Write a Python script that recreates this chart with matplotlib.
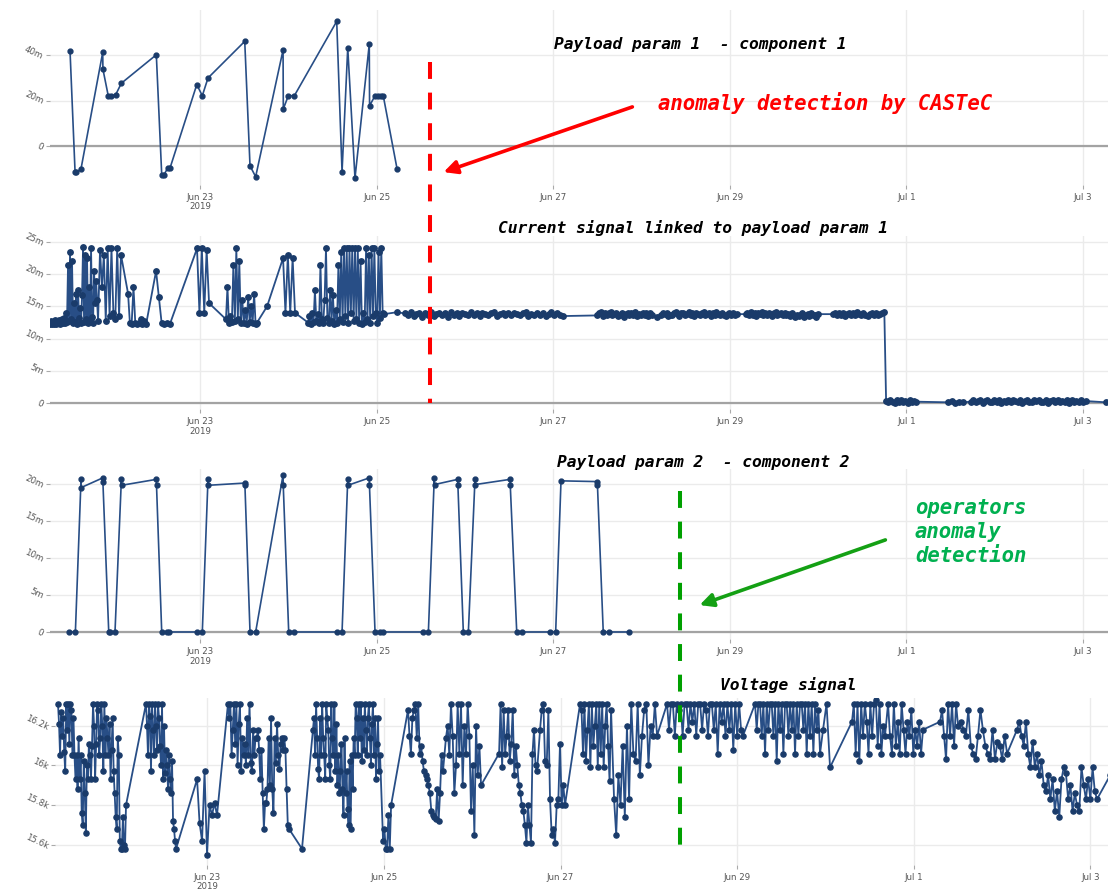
import matplotlib
matplotlib.use("Agg")
import matplotlib.pyplot as plt
import matplotlib.dates as mdates
from matplotlib.lines import Line2D
from matplotlib.patches import FancyArrowPatch
from matplotlib.transforms import blended_transform_factory
import numpy as np
import pandas as pd

# ---------------- DATA ----------------
# Payload param 1 - component 1 (m units)
p1_times = ["2019-06-21 12:40", "2019-06-21 14:02", "2019-06-21 14:24", "2019-06-21 15:39",
            "2019-06-21 21:33", "2019-06-21 21:36", "2019-06-21 23:05", "2019-06-21 23:46",
            "2019-06-22 01:05", "2019-06-22 02:37", "2019-06-22 12:07", "2019-06-22 13:35",
            "2019-06-22 14:12", "2019-06-22 15:13", "2019-06-22 15:50", "2019-06-22 23:07",
            "2019-06-23 00:37", "2019-06-23 02:10", "2019-06-23 12:09", "2019-06-23 13:35",
            "2019-06-23 15:07", "2019-06-23 22:34", "2019-06-23 22:38", "2019-06-24 00:00",
            "2019-06-24 01:38", "2019-06-24 13:09", "2019-06-24 14:36", "2019-06-24 16:09",
            "2019-06-24 18:07", "2019-06-24 22:00", "2019-06-24 22:05", "2019-06-24 23:34",
            "2019-06-25 00:29", "2019-06-25 01:05", "2019-06-25 01:48", "2019-06-25 05:33"]
p1_values = [41.6, -11.6, -11.6, -10.0, 41.2, 33.8, 21.8, 21.8, 22.6, 27.6, 40.1, -12.6,
             -12.6, -9.7, -9.7, 27.0, 22.1, 29.9, 46.0, -8.7, -13.5, 42.2, 16.3, 22.1,
             22.1, 54.8, -11.3, 43.1, -14.1, 44.7, 17.7, 22.1, 22.1, 22.1, 22.1, -10.0]

# Current signal linked to payload param 1 (m units): bursts of (start, end, values)
cur_bursts = [
    ("2019-06-21 07:13", "2019-06-21 20:17",
     [12.3, 12.8, 12.2, 12.6, 12.3, 12.9, 12.2, 12.7, 12.4, 12.9, 12.3, 12.6, 13.0, 12.4, 13.2, 12.5,
      14.0, 12.6, 21.5, 12.8, 23.4, 13.0, 22.0, 12.4, 15.5, 12.6, 17.0, 12.3, 17.5, 13.2, 14.8, 12.5,
      16.7, 24.2, 12.6, 23.0, 13.0, 22.5, 12.4, 18.0, 12.7, 24.0, 13.4, 12.5, 20.5, 15.5, 19.0, 16.0, 12.8]),
    ("2019-06-21 20:49", "2019-06-22 02:31",
     [23.8, 18.0, 23.0, 12.8, 24.0, 13.5, 24.0, 14.0, 13.0, 24.0, 13.5, 23.0]),
    ("2019-06-22 04:26", "2019-06-22 09:20",
     [17.0, 12.5, 12.3, 18.0, 12.5, 12.2, 12.4, 13.0, 12.3, 12.8, 12.2]),
    ("2019-06-22 12:03", "2019-06-22 15:50", [20.5, 16.5, 12.4, 12.2, 12.5, 12.3]),
    ("2019-06-22 23:11", "2019-06-23 02:27", [24.0, 14.0, 24.0, 14.0, 23.8, 15.5]),
    ("2019-06-23 07:03", "2019-06-23 15:30",
     [13.0, 18.0, 12.5, 13.5, 12.6, 21.5, 12.8, 24.0, 13.0, 22.0, 12.4, 16.0, 12.5, 14.5, 12.3,
      16.5, 12.6, 15.0, 12.4, 17.0, 12.3, 12.5]),
    ("2019-06-23 18:13", "2019-06-23 18:13", [15.0]),
    ("2019-06-23 22:34", "2019-06-24 01:49", [22.5, 14.0, 23.0, 14.0, 22.5, 14.0]),
    ("2019-06-24 05:21", "2019-06-25 02:01",
     [12.5, 13.5, 12.3, 14.0, 12.6, 17.5, 12.8, 13.8, 12.4, 21.5, 13.0, 12.5, 16.0, 24.0, 13.2, 12.4,
      17.5, 12.8, 16.8, 12.3, 14.5, 12.5, 21.5, 13.0, 23.4, 12.6, 24.0, 13.5, 24.0, 12.4, 24.0, 14.0,
      24.0, 12.8, 24.0, 13.0, 24.0, 12.5, 22.0, 12.2, 14.0, 12.6, 24.0, 13.0, 23.0, 12.4, 24.0, 13.5,
      24.0, 14.0, 12.5, 23.5, 13.2, 24.0, 14.0, 13.8]),
    ("2019-06-25 05:33", "2019-06-25 05:33", [14.1]),
    ("2019-06-25 07:41", "2019-06-27 02:38",
     [13.9, 13.6, 14.1, 13.5, 13.8, 14.0, 13.4, 13.9, 13.7, 14.1, 13.5, 13.8, 14.0, 13.6, 13.9, 13.4,
      14.1, 13.7, 13.9, 13.5, 14.0, 13.8, 13.6, 14.1, 13.7, 13.9, 13.5, 14.0, 13.8, 13.6, 13.9, 14.1,
      13.5, 13.8, 14.0, 13.7, 13.9, 13.6, 14.0, 13.8, 13.6, 13.9, 14.1, 13.5, 13.8, 13.7, 14.0, 13.6,
      13.9, 13.5, 13.8, 14.1, 13.6, 13.9, 13.7, 13.5]),
    ("2019-06-27 12:00", "2019-06-28 02:53",
     [13.6, 13.9, 14.1, 13.5, 14.0, 13.7, 13.9, 14.1, 13.6, 13.8, 14.0, 13.5, 13.7, 13.9, 13.4, 13.8,
      14.0, 13.6, 13.9, 13.7, 14.1, 13.5, 13.8, 13.6, 13.9, 13.7, 14.0, 13.5, 13.9, 13.6]),
    ("2019-06-28 04:05", "2019-06-28 04:05", [13.4]),
    ("2019-06-28 05:17", "2019-06-29 01:55",
     [13.7, 14.0, 13.8, 13.9, 13.5, 13.7, 13.6, 13.9, 14.1, 13.8, 13.5, 13.9, 14.0, 13.6, 13.8, 14.1,
      13.7, 13.9, 13.5, 14.0, 13.8, 13.6, 13.9, 14.1, 13.7, 13.8, 14.0, 13.5, 13.9, 13.7, 14.1, 13.8,
      13.6, 13.9, 13.7, 13.5, 13.8, 14.0, 13.6, 13.9, 13.7, 13.8]),
    ("2019-06-29 04:19", "2019-06-30 00:00",
     [13.8, 14.0, 13.6, 14.1, 13.7, 13.9, 13.5, 14.0, 13.8, 14.1, 13.6, 13.9, 13.7, 14.0, 13.8, 13.5,
      13.9, 14.1, 13.7, 13.8, 14.0, 13.6, 13.9, 13.7, 13.8, 13.5, 13.9, 13.6, 13.4, 13.7, 13.5, 13.6,
      13.9, 13.4, 13.7, 13.8, 13.5, 13.9, 13.6, 13.7, 13.4, 13.8]),
    ("2019-06-30 04:05", "2019-06-30 17:17",
     [13.8, 13.9, 13.6, 14.0, 13.7, 13.9, 13.5, 13.8, 14.0, 13.6, 13.9, 13.7, 14.1, 13.8, 13.6, 13.9,
      13.7, 13.5, 13.8, 14.0, 13.7, 13.9, 13.6, 13.8, 14.0]),
    ("2019-06-30 18:00", "2019-06-30 18:00", [14.2]),
    ("2019-06-30 18:29", "2019-07-01 02:38",
     [0.3, 0.1, 0.5, 0.2, 0.0, 0.4, 0.2, 0.5, 0.1, 0.3, 0.0, 0.4, 0.2, 0.3, 0.2]),
    ("2019-07-01 11:17", "2019-07-01 15:22", [0.1, 0.3, 0.0, 0.2, 0.1]),
    ("2019-07-01 17:31", "2019-07-03 00:43",
     [0.2, 0.5, 0.1, 0.3, 0.4, 0.0, 0.3, 0.5, 0.2, 0.1, 0.4, 0.2, 0.5, 0.0, 0.3, 0.2, 0.4, 0.1, 0.5,
      0.3, 0.2, 0.4, 0.0, 0.3, 0.5, 0.1, 0.2, 0.4, 0.3, 0.5, 0.1, 0.2, 0.4, 0.0, 0.3, 0.5, 0.2, 0.4,
      0.1, 0.3, 0.2, 0.5, 0.0, 0.4, 0.2, 0.3, 0.1, 0.4, 0.2, 0.3]),
    ("2019-07-03 06:14", "2019-07-03 06:14", [0.1]),
]

# Payload param 2 - component 2 (m units)
p2_times = ["2019-06-21 12:29", "2019-06-21 14:07", "2019-06-21 15:39", "2019-06-21 15:43",
            "2019-06-21 21:33", "2019-06-21 21:36", "2019-06-21 23:11", "2019-06-21 23:33",
            "2019-06-22 00:53", "2019-06-22 02:37", "2019-06-22 02:40", "2019-06-22 12:07",
            "2019-06-22 12:10", "2019-06-22 13:35", "2019-06-22 14:57", "2019-06-22 15:39",
            "2019-06-22 23:07", "2019-06-23 00:37", "2019-06-23 02:10", "2019-06-23 02:12",
            "2019-06-23 12:09", "2019-06-23 12:12", "2019-06-23 13:35", "2019-06-23 15:07",
            "2019-06-23 22:34", "2019-06-23 22:37", "2019-06-24 00:06", "2019-06-24 01:38",
            "2019-06-24 13:09", "2019-06-24 14:36", "2019-06-24 16:09", "2019-06-24 16:12",
            "2019-06-24 22:00", "2019-06-24 22:03", "2019-06-24 23:34", "2019-06-25 00:55",
            "2019-06-25 01:39", "2019-06-25 12:32", "2019-06-25 14:04", "2019-06-25 15:40",
            "2019-06-25 15:44", "2019-06-25 22:02", "2019-06-25 22:05", "2019-06-25 23:34",
            "2019-06-26 00:56", "2019-06-26 02:44", "2019-06-26 02:48", "2019-06-26 12:16",
            "2019-06-26 12:19", "2019-06-26 14:05", "2019-06-26 15:36", "2019-06-26 23:08",
            "2019-06-27 00:40", "2019-06-27 02:07", "2019-06-27 11:59", "2019-06-27 12:01",
            "2019-06-27 13:36", "2019-06-27 15:10", "2019-06-27 20:36"]
p2_values = [0, 0, 20.6, 19.5, 20.8, 20.2, 0, 0, 0, 20.6, 19.8, 20.6, 19.8, 0, 0, 0, 0, 0,
             20.7, 19.8, 20.1, 19.8, 0, 0, 21.2, 19.8, 0, 0, 0, 0, 20.6, 19.8, 20.8, 19.8,
             0, 0, 0, 0, 0, 20.8, 19.9, 20.6, 19.9, 0, 0, 20.6, 19.9, 20.6, 19.9, 0, 0, 0, 0,
             20.4, 20.3, 19.9, 0, 0, 0]

# Voltage signal (k units): bursts of (start, end, values)
volt_bursts = [
    ("2019-06-21 07:25", "2019-06-22 01:54",
     [16.31, 16.21, 16.05, 16.27, 16.15, 16.24, 16.07, 15.97, 16.31, 16.18, 16.31, 16.11, 16.31, 16.28,
      16.05, 16.24, 16.05, 15.93, 16.05, 15.88, 16.14, 15.93, 16.05, 15.76, 15.70, 16.02, 15.86, 15.66,
      16.00, 15.93, 16.11, 16.05, 15.93, 16.10, 16.31, 16.20, 15.93, 16.11, 16.31, 16.28, 16.05, 16.14,
      16.31, 16.20, 15.97, 16.31, 16.05, 16.24, 16.14, 16.05, 16.21, 15.93, 16.08, 16.24, 15.97, 15.86,
      15.74, 15.68, 16.14, 16.05, 15.62, 15.58, 15.58, 15.74, 15.60, 15.58, 15.80]),
    ("2019-06-22 07:20", "2019-06-22 15:30",
     [16.31, 16.20, 16.05, 16.31, 16.25, 15.97, 16.31, 16.18, 16.05, 16.31, 16.20, 16.08, 16.31, 16.24,
      16.10, 16.00, 16.31, 15.93, 16.20, 15.96, 16.08, 16.00, 15.88, 16.05, 15.93, 15.86, 16.02, 15.72,
      15.68, 15.62, 15.58]),
    ("2019-06-22 21:13", "2019-06-23 02:38",
     [15.93, 15.71, 15.62, 15.97, 15.55, 15.80, 15.75, 15.81, 15.75]),
    ("2019-06-23 05:37", "2019-06-23 22:12",
     [16.31, 16.24, 16.31, 16.05, 16.18, 16.31, 16.11, 16.31, 16.00, 16.21, 16.31, 15.97, 16.14, 16.05,
      16.11, 16.00, 16.24, 16.05, 16.31, 16.01, 15.97, 16.18, 16.05, 16.14, 16.14, 16.18, 16.08, 15.93,
      16.08, 15.86, 15.68, 15.81, 15.81, 15.88, 16.14, 15.90, 16.24, 15.88, 15.76, 16.14, 16.01, 16.21,
      16.05, 15.98, 16.11, 16.14, 16.08, 16.14, 16.08, 15.88, 15.70, 15.68]),
    ("2019-06-24 01:44", "2019-06-24 01:44", [15.58]),
    ("2019-06-24 04:44", "2019-06-24 22:57",
     [16.18, 16.24, 16.05, 16.31, 16.14, 15.98, 15.93, 16.24, 16.05, 16.31, 16.14, 16.05, 15.93, 16.31,
      16.24, 16.18, 16.00, 15.93, 16.31, 16.14, 16.05, 16.31, 15.97, 16.21, 15.90, 16.05, 15.86, 15.97,
      16.11, 15.88, 15.75, 16.14, 15.86, 15.97, 15.78, 15.70, 16.02, 15.68, 16.05, 15.88, 16.14, 16.05,
      16.31, 16.24, 16.05, 16.31, 16.14, 16.31, 16.02, 16.24, 16.08, 16.31, 16.18, 16.05, 16.24, 16.31,
      16.14, 16.00, 16.21, 16.31, 16.05, 16.24, 15.93, 16.11, 16.24, 15.97, 16.05]),
    ("2019-06-24 23:46", "2019-06-25 01:57", [15.62, 15.68, 15.58, 15.58, 15.75, 15.58, 15.80]),
    ("2019-06-25 06:33", "2019-06-25 16:03",
     [16.28, 16.15, 16.06, 16.24, 16.28, 16.31, 16.14, 16.31, 16.06, 16.10, 16.02, 15.97, 15.95, 15.93,
      15.90, 15.86, 15.77, 15.75, 15.74, 15.73, 15.88, 15.72, 15.86, 16.05, 15.97]),
    ("2019-06-25 16:52", "2019-06-26 02:24",
     [16.14, 16.20, 16.05, 16.31, 16.15, 15.86, 16.00, 16.31, 16.06, 16.31, 15.90, 16.20, 16.06, 16.31,
      16.15, 15.77, 16.00, 15.65, 16.20, 15.95, 16.10, 15.90]),
    ("2019-06-26 07:18", "2019-06-26 17:37",
     [16.06, 16.31, 15.99, 16.28, 16.06, 16.15, 16.28, 16.02, 16.11, 16.28, 15.95, 16.10, 16.00, 15.90,
      15.86, 15.80, 15.77, 15.70, 15.61, 15.80, 15.70, 15.61, 16.06, 16.18, 16.00, 15.97]),
    ("2019-06-26 18:26", "2019-06-27 01:13",
     [16.18, 16.28, 16.31, 16.02, 16.00, 16.28, 15.83, 15.65, 15.68, 15.61, 15.80, 15.83, 16.11, 15.80,
      15.90, 15.80]),
    ("2019-06-27 05:18", "2019-06-27 13:44",
     [16.31, 16.28, 16.06, 16.31, 16.02, 16.18, 16.31, 15.99, 16.31, 16.10, 16.20, 16.31, 15.99, 16.31,
      16.06, 16.31, 15.99, 16.20, 16.31, 16.10, 15.92, 16.28]),
    ("2019-06-27 14:33", "2019-06-28 02:14",
     [15.83, 15.65, 15.95, 15.80, 16.10, 15.74, 16.20, 15.83, 16.31, 16.06, 16.02, 16.31, 15.95, 16.15,
      16.28, 16.31, 16.00, 16.20, 16.15, 16.31, 16.15]),
    ("2019-06-28 04:57", "2019-06-29 01:36",
     [16.31, 16.18, 16.31, 16.31, 16.15, 16.31, 16.28, 16.31, 16.15, 16.31, 16.31, 16.18, 16.31, 16.22,
      16.31, 16.15, 16.31, 16.31, 16.18, 16.31, 16.28, 16.15, 16.31, 16.31, 16.18, 16.31, 16.06, 16.31,
      16.22, 16.31, 16.15, 16.31, 16.18, 16.31, 16.08, 16.31, 16.15, 16.31, 16.18, 16.15]),
    ("2019-06-29 04:52", "2019-06-29 22:32",
     [16.31, 16.18, 16.31, 16.31, 16.15, 16.31, 16.06, 16.31, 16.18, 16.31, 16.31, 16.15, 16.31, 16.02,
      16.31, 16.18, 16.31, 16.06, 16.31, 16.31, 16.15, 16.31, 16.18, 16.31, 16.06, 16.31, 16.15, 16.31,
      16.31, 16.18, 16.31, 16.06, 16.31, 16.15, 16.31, 16.06, 16.31, 16.18, 16.28, 16.06]),
    ("2019-06-29 23:21", "2019-06-30 01:15", [16.18, 16.31, 15.99]),
    ("2019-06-30 07:13", "2019-06-30 16:12",
     [16.22, 16.31, 16.06, 16.31, 16.02, 16.31, 16.15, 16.31, 16.22, 16.06, 16.31, 16.15, 16.31, 16.33,
      16.10, 16.31, 16.06, 16.20, 16.15]),
    ("2019-06-30 17:01", "2019-07-01 02:31",
     [16.31, 16.15, 16.06, 16.31, 16.10, 16.22, 16.06, 16.31, 16.18, 16.06, 16.22, 16.15, 16.28, 16.06,
      16.18, 16.10, 16.22, 16.06, 16.18]),
    ("2019-07-01 07:09", "2019-07-01 12:03",
     [16.22, 16.28, 16.15, 16.03, 16.31, 16.15, 16.31, 16.10, 16.31, 16.20]),
    ("2019-07-01 12:52", "2019-07-02 01:22",
     [16.22, 16.18, 16.15, 16.28, 16.10, 16.06, 16.03, 16.15, 16.28, 16.18, 16.10, 16.06, 16.03, 16.18,
      16.03, 16.12, 16.10, 16.03, 16.15, 16.06]),
    ("2019-07-02 04:05", "2019-07-03 01:49",
     [16.18, 16.22, 16.15, 16.10, 16.22, 16.06, 15.99, 16.12, 15.99, 16.06, 15.95, 16.02, 15.90, 15.87,
      15.95, 15.83, 15.93, 15.77, 15.87, 15.74, 15.93, 15.99, 15.96, 15.83, 15.90, 15.77, 15.86, 15.80,
      15.77, 15.99, 15.90, 15.83, 15.93, 15.83, 15.99, 15.87, 15.83]),
    ("2019-07-03 05:23", "2019-07-03 05:23", [15.95]),
]

tick_dates = ["2019-06-23", "2019-06-25", "2019-06-27", "2019-06-29", "2019-07-01", "2019-07-03"]
tick_labels = ["Jun 23\n2019", "Jun 25", "Jun 27", "Jun 29", "Jul 1", "Jul 3"]

p1_yticks, p1_ylabels = [0, 20, 40], ["0", "20m", "40m"]
cur_yticks, cur_ylabels = [0, 5, 10, 15, 20, 25], ["0", "5m", "10m", "15m", "20m", "25m"]
p2_yticks, p2_ylabels = [0, 5, 10, 15, 20], ["0", "5m", "10m", "15m", "20m"]
volt_yticks, volt_ylabels = [15.6, 15.8, 16.0, 16.2], ["15.6k", "15.8k", "16k", "16.2k"]

titles = ["Payload param 1  - component 1", "Current signal linked to payload param 1",
          "Payload param 2  - component 2", "Voltage signal"]
castec_time = "2019-06-25 14:31"
operators_time = "2019-06-28 10:28"

# ---------------- HELPERS ----------------
def expand(bursts):
    t, v = [], []
    for start, end, vals in bursts:
        t.extend(pd.date_range(start, end, periods=len(vals)))
        v.extend(vals)
    return mdates.date2num(pd.DatetimeIndex(t).to_pydatetime()), np.array(v)

def tnum(s):
    return mdates.date2num(pd.Timestamp(s).to_pydatetime())

W, H = 1108, 895
fig = plt.figure(figsize=(W / 100, H / 100), dpi=100)
fig.patch.set_facecolor("white")

def px_axes(left, top, right, bottom):
    return fig.add_axes([left / W, 1 - bottom / H, (right - left) / W, (bottom - top) / H])

LINE_C = "#284e86"
MARK_C = "#1a3b6a"
GRID_C = "#ebebeb"

def style(ax, xlim, ylim, yticks, ylabels, zero_line):
    ax.set_xlim(tnum(xlim[0]), tnum(xlim[1]))
    ax.set_ylim(*ylim)
    for s in ax.spines.values():
        s.set_visible(False)
    ax.set_xticks([tnum(d) for d in tick_dates])
    ax.set_xticklabels(tick_labels)
    ax.set_yticks(yticks)
    ax.set_yticklabels(ylabels)
    ax.grid(True, color=GRID_C, lw=1.0)
    ax.set_axisbelow(True)
    ax.tick_params(axis="both", length=3, width=0.8, color="#aaaaaa", pad=2,
                   labelsize=6.2, labelcolor="#555555")
    for lab in ax.get_yticklabels():
        lab.set_rotation(-25)
        lab.set_rotation_mode("anchor")
    for lab in ax.get_xticklabels():
        lab.set_linespacing(1.1)
    if zero_line:
        ax.axhline(0, color="#a3a3a3", lw=1.6, zorder=1)

def draw(ax, t, v, ms=3.5, lw=1.2):
    ax.plot(t, v, "-", color=LINE_C, lw=lw, zorder=3)
    ax.plot(t, v, "o", color=MARK_C, ms=ms, zorder=4)

XL = ("2019-06-21 07:13", "2019-07-03 06:48")
XL4 = ("2019-06-21 06:36", "2019-07-03 04:48")

ax1 = px_axes(50, 10.5, 1108, 185.7)
style(ax1, XL, (-17, 60), p1_yticks, p1_ylabels, True)
draw(ax1, mdates.date2num(pd.to_datetime(p1_times).to_pydatetime()), np.array(p1_values))

ax2 = px_axes(50, 236.6, 1108, 410.4)
style(ax2, XL, (-1, 26), cur_yticks, cur_ylabels, True)
ct, cv = expand(cur_bursts)
draw(ax2, ct, cv, ms=3.9, lw=1.3)

ax3 = px_axes(50, 470, 1108, 640.4)
style(ax3, XL, (-1, 22), p2_yticks, p2_ylabels, True)
draw(ax3, mdates.date2num(pd.to_datetime(p2_times).to_pydatetime()), np.array(p2_values))

ax4 = px_axes(55, 698.9, 1108, 865.7)
style(ax4, XL4, (15.5, 16.34), volt_yticks, volt_ylabels, False)
vt, vv = expand(volt_bursts)
draw(ax4, vt, vv, ms=3.7, lw=1.3)

# ---------------- TITLES ----------------
title_font = dict(family="DejaVu Sans Mono", style="italic", weight="bold", size=11.7, color="black")
for (cx, cy), txt in zip([(700, 45), (693, 228), (703, 463), (788, 685)], titles):
    fig.text(cx / W, 1 - cy / H, txt, ha="center", va="center", **title_font)

# ---------------- ANNOTATIONS ----------------
def fy(y):
    return 1 - y / H

tr_red = blended_transform_factory(ax2.transData, fig.transFigure)
xr = tnum(castec_time)
fig.add_artist(Line2D([xr, xr], [fy(63), fy(404)], transform=tr_red, color="#ff0000",
                      lw=2.9, linestyle=(0, (4.2, 3.4)), zorder=10))
tr_green = blended_transform_factory(ax3.transData, fig.transFigure)
xg = tnum(operators_time)
fig.add_artist(Line2D([xg, xg], [fy(492), fy(850)], transform=tr_green, color="#00a000",
                      lw=2.9, linestyle=(0, (4.2, 3.4)), zorder=10))

fig.add_artist(FancyArrowPatch((635 / W, fy(107)), (441 / W, fy(174)), transform=fig.transFigure,
                               arrowstyle="-|>", mutation_scale=20, lw=2.6, color="#ff0000", zorder=11))
fig.add_artist(FancyArrowPatch((888 / W, fy(540)), (697 / W, fy(607)), transform=fig.transFigure,
                               arrowstyle="-|>", mutation_scale=20, lw=2.6, color="#14a014", zorder=11))

ann_font = dict(family="DejaVu Sans Mono", style="italic", weight="bold", size=14.9)
fig.text(658 / W, fy(103), "anomaly detection by CASTeC", ha="left", va="center",
         color="#ff0000", **ann_font)
fig.text(915 / W, fy(498), "operators\nanomaly\ndetection", ha="left", va="top",
         color="#00b050", linespacing=1.25, **ann_font)

fig.savefig("out.png", dpi=100, facecolor="white")
